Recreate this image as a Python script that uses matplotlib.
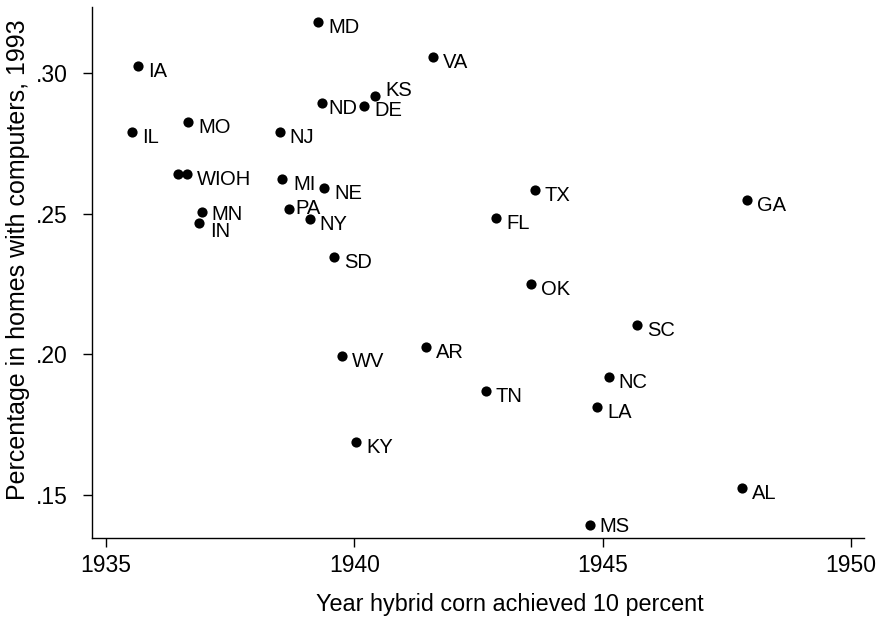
import matplotlib
matplotlib.use("Agg")
import matplotlib.pyplot as plt

# hybrid corn adoption year vs computer ownership, by state
states = ["MD", "IA", "VA", "KS", "ND", "DE", "MO", "IL", "NJ", "WI", "OH",
          "MI", "NE", "MN", "IN", "PA", "NY", "SD", "TX", "FL", "GA", "OK",
          "SC", "WV", "AR", "NC", "TN", "LA", "KY", "AL", "MS"]
year = [1939.27, 1935.65, 1941.59, 1940.42, 1939.34, 1940.20, 1936.66, 1935.52,
        1938.50, 1936.45, 1936.64, 1938.55, 1939.39, 1936.94, 1936.87, 1938.69,
        1939.10, 1939.59, 1943.63, 1942.86, 1947.91, 1943.55, 1945.69, 1939.76,
        1941.44, 1945.12, 1942.65, 1944.89, 1940.04, 1947.81, 1944.74]
pct = [.3184, .3027, .3059, .2920, .2895, .2884, .2826, .2792, .2790, .2642,
       .2642, .2624, .2593, .2506, .2466, .2517, .2481, .2345, .2585, .2484,
       .2549, .2250, .2104, .1995, .2025, .1918, .1869, .1813, .1687, .1525,
       .1395]

xticks = [1935, 1940, 1945, 1950]
yticks = [.15, .20, .25, .30]
ytick_labels = [".15", ".20", ".25", ".30"]

plt.rcParams['font.family'] = ['Liberation Sans', 'DejaVu Sans']

fig = plt.figure(figsize=(8.8, 6.21), dpi=100)
ax = fig.add_axes([92/880, 83/621, 772/880, 531/621])

ax.scatter(year, pct, s=54, color="black", zorder=3, linewidths=0)

# label offsets in points (default: right of the dot, a bit below)
default_off = (7.2, -7.9)
label_off = {
    "KS": (7.0, -0.1),
    "MN": (6.3, -5.8),
    "PA": (4.3, -3.5),
    "IN": (7.8, -10.0),
    "ND": (5.3, -7.8),
    "DE": (7.5, -7.2),
    "MI": (7.7, -7.8),
    "WI": (13.3, -7.8),
    "OH": (23.6, -7.8),
    "MS": (7.0, -5.5),
}
for s, x, y in zip(states, year, pct):
    off = label_off.get(s, default_off)
    ax.annotate(s, (x, y), xytext=off, textcoords="offset points",
                ha="left", va="baseline", fontsize=14.5, color="black")

ax.set_xlim(1934.72, 1950.26)
ax.set_ylim(0.1347, 0.3236)
ax.set_xticks(xticks)
ax.set_xticklabels([str(t) for t in xticks])
ax.set_yticks(yticks)
ax.set_yticklabels(ytick_labels)
ax.tick_params(axis="both", direction="out", length=6.5, width=1.0,
               labelsize=16.5, color="black")
ax.tick_params(axis="x", pad=5)
ax.tick_params(axis="y", pad=11)

for side in ["top", "right"]:
    ax.spines[side].set_visible(False)
for side in ["left", "bottom"]:
    ax.spines[side].set_linewidth(1.0)

ax.set_xlabel("Year hybrid corn achieved 10 percent", fontsize=16.8, va="center")
ax.xaxis.set_label_coords(0.541, -0.126)
ax.set_ylabel("Percentage in homes with computers, 1993", fontsize=18, va="center")
ax.yaxis.set_label_coords(-0.0959, 0.525)

fig.savefig("out.png", dpi=100)
